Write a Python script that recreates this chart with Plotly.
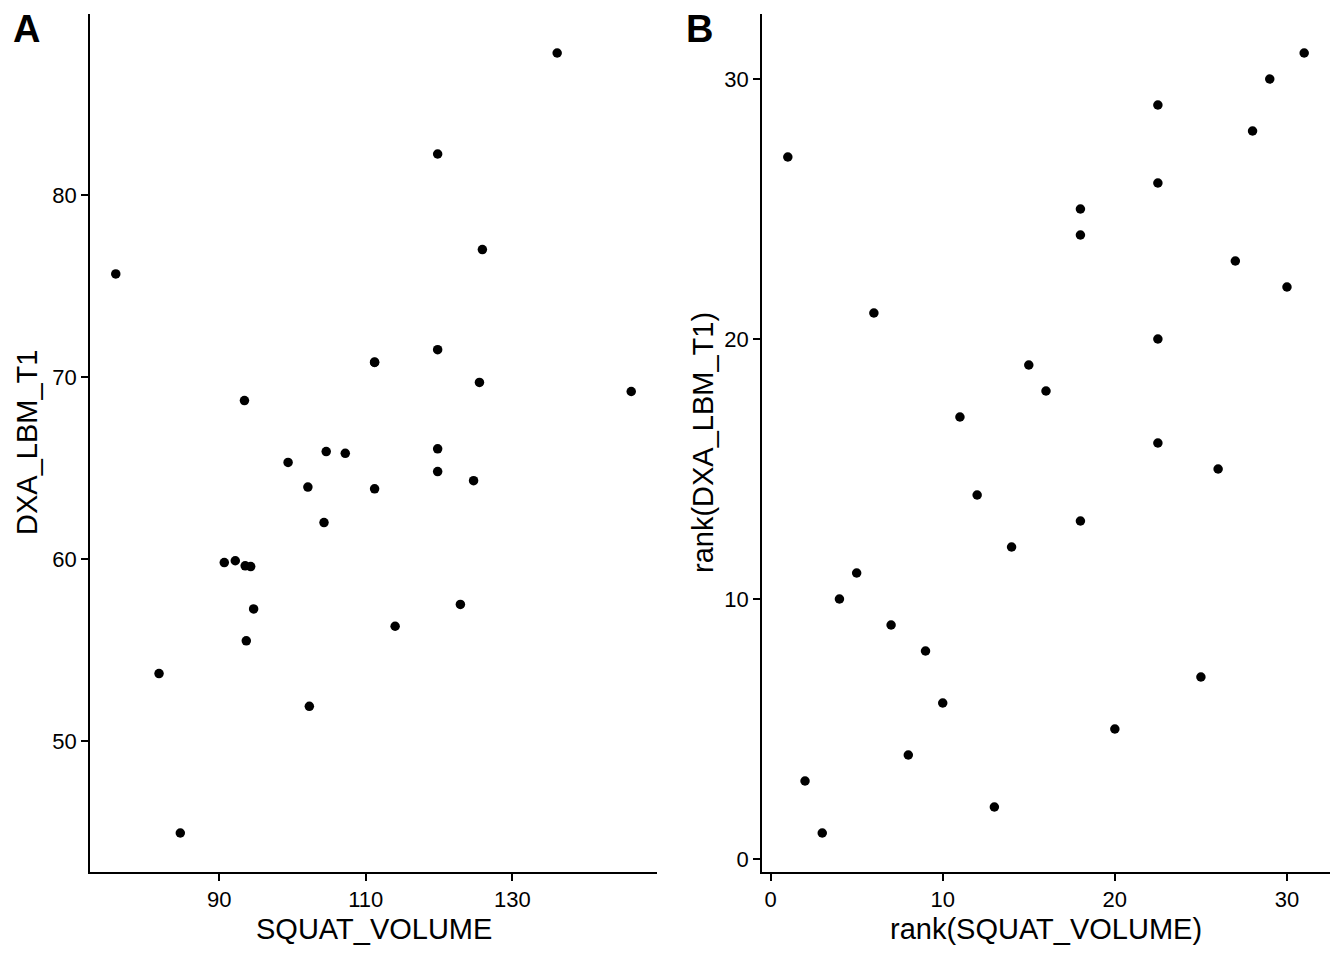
import plotly.graph_objects as go
from plotly.subplots import make_subplots

# panel A data (last row is missing in both columns, so it is only drawn in B)
squat_volume = [75.9, 81.8, 84.7, 90.7, 92.2, 93.45, 93.55, 93.7, 94.3, 94.7,
                99.4, 102.1, 102.3, 104.3, 104.6, 107.2, 111.2, 111.2, 111.2, 114.0,
                119.8, 119.8, 119.8, 119.8, 122.9, 124.7, 125.5, 125.9, 136.1, 146.2, None]
dxa_lbm_t1 = [75.66, 53.7, 44.94, 59.8, 59.9, 68.7, 59.62, 55.5, 59.58, 57.25,
              65.3, 63.95, 51.9, 62.0, 65.9, 65.8, 70.82, 70.8, 63.85, 56.3,
              82.25, 71.5, 66.05, 64.8, 57.5, 64.3, 69.7, 77.0, 87.8, 69.2, None]

# panel B data
rank_squat = [1, 2, 3, 4, 5, 6, 7, 8, 9, 10, 11, 12, 13, 14, 15, 16, 18, 18, 18, 20,
              22.5, 22.5, 22.5, 22.5, 25, 26, 27, 28, 29, 30, 31]
rank_dxa = [27, 3, 1, 10, 11, 21, 9, 4, 8, 6, 17, 14, 2, 12, 19, 18, 25, 24, 13, 5,
            29, 26, 20, 16, 7, 15, 23, 28, 30, 22, 31]

FONT = 'Liberation Sans, Arial, sans-serif'
OFF = 8  # page body margin
W, H = 1344 - 2 * OFF, 960 - 2 * OFF


def expand(vals, mult=0.05):
    v = [a for a in vals if a is not None]
    lo, hi = min(v), max(v)
    pad = (hi - lo) * mult
    return [lo - pad, hi + pad]


def px(x):
    return (x - OFF) / W


def py(y):
    return 1 - (y - OFF) / H


fig = make_subplots(rows=1, cols=2)
fig.add_trace(go.Scatter(x=squat_volume, y=dxa_lbm_t1, mode='markers',
                         marker=dict(color='black', size=9.5), showlegend=False), 1, 1)
fig.add_trace(go.Scatter(x=rank_squat, y=rank_dxa, mode='markers',
                         marker=dict(color='black', size=9.5), showlegend=False), 1, 2)

axis_style = dict(showline=True, linecolor='black', linewidth=1.5,
                  ticks='outside', ticklen=7, tickwidth=1.5, tickcolor='black',
                  showgrid=False, zeroline=False, automargin=False,
                  tickfont=dict(family=FONT, size=22, color='black'))

fig.update_xaxes(**axis_style)
fig.update_yaxes(**axis_style)

fig.update_layout(
    xaxis=dict(domain=[px(90), px(657)], range=expand(squat_volume), tickvals=[90, 110, 130]),
    yaxis=dict(domain=[py(872), py(14)], range=expand(dxa_lbm_t1), tickvals=[50, 60, 70, 80]),
    xaxis2=dict(domain=[px(762), px(1330)], range=expand(rank_squat), tickvals=[0, 10, 20, 30]),
    yaxis2=dict(domain=[py(872), py(14)], range=expand(rank_dxa), tickvals=[0, 10, 20, 30]),
    width=W, height=H,
    margin=dict(l=0, r=0, t=0, b=0),
    plot_bgcolor='white', paper_bgcolor='white',
    font=dict(family=FONT, color='black'),
)

title_font = dict(family=FONT, size=29, color='black')
label_font = dict(family=FONT, size=38, color='black')
annotations = [
    dict(text='<b>A</b>', x=px(11), y=py(6), xanchor='left', yanchor='top', font=label_font),
    dict(text='<b>B</b>', x=px(684), y=py(6), xanchor='left', yanchor='top', font=label_font),
    dict(text='SQUAT_VOLUME', x=px(373.5), y=py(929), xanchor='center', yanchor='middle', font=title_font),
    dict(text='DXA_LBM_T1', x=px(27), y=py(443), xanchor='center', yanchor='middle',
         textangle=-90, font=title_font),
    dict(text='rank(SQUAT_VOLUME)', x=px(1046), y=py(929), xanchor='center', yanchor='middle', font=title_font),
    dict(text='rank(DXA_LBM_T1)', x=px(703), y=py(443), xanchor='center', yanchor='middle',
         textangle=-90, font=title_font),
]
for a in annotations:
    a.update(xref='paper', yref='paper', showarrow=False)
fig.update_layout(annotations=annotations)

fig.write_html("out.html")
